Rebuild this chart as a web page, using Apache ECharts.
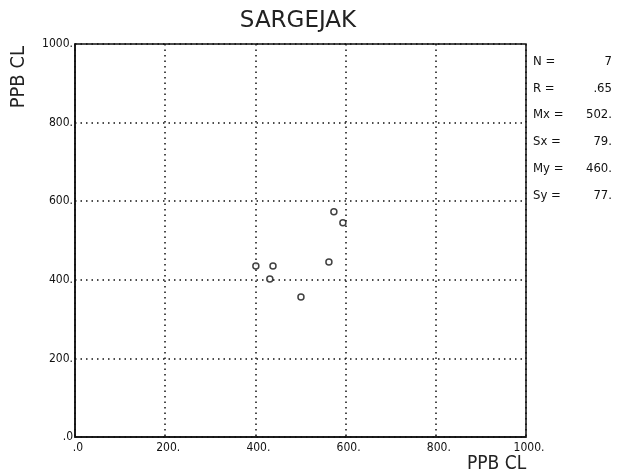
<!DOCTYPE html>
<html>
<head>
<meta charset="utf-8">
<script src="https://cdn.jsdelivr.net/npm/echarts@6/dist/echarts.min.js"></script>
<style>html,body{margin:0;padding:0;background:#fff}#c{width:624px;height:472px}</style>
</head>
<body>
<div id="c"></div>
<script>
var xValues = [401, 439, 432, 501, 563, 574, 594];
var yValues = [435, 435, 402, 356, 445, 573, 545];
var statLabels = ['N =', 'R =', 'Mx =', 'Sx =', 'My =', 'Sy ='];
var statValues = ['7', '.65', '502.', '79.', '460.', '77.'];
var tickValues = [0, 200, 400, 600, 800, 1000];

var points = xValues.map(function (x, i) { return [x, yValues[i]]; });
function fmt(v) { return v === 0 ? '.0' : v + '.'; }

var chart = echarts.init(document.getElementById('c'));
var graphics = [];
statLabels.forEach(function (s, i) {
  var y = 63 + i * 26.8;
  graphics.push({ type: 'text', left: 533, top: y - 8, style: { text: s, fontSize: 13, fontFamily: 'DejaVu Sans Condensed, DejaVu Sans', fill: '#111' } });
  graphics.push({ type: 'text', right: 12, top: y - 8, style: { text: statValues[i], fontSize: 13, fontFamily: 'DejaVu Sans Condensed, DejaVu Sans', fill: '#111', textAlign: 'right' } });
});
graphics.push({ type: 'text', left: 9, top: 46, rotation: Math.PI / 2, style: { text: 'PPB CL', fontSize: 20, fontFamily: 'DejaVu Sans Condensed, DejaVu Sans', fill: '#222' } });
graphics.push({ type: 'text', left: 467, top: 455, style: { text: 'PPB CL', fontSize: 19, fontFamily: 'DejaVu Sans Condensed, DejaVu Sans', fill: '#222' } });

chart.setOption({
  backgroundColor: '#fff',
  animation: false,
  title: { text: 'SARGEJAK', left: 293, top: 5, textAlign: 'center', textStyle: { fontSize: 23, fontWeight: 'normal', fontFamily: 'DejaVu Sans', color: '#222' } },
  grid: { left: 75, top: 44, width: 451, height: 393, show: true, borderColor: '#111', borderWidth: 1.5, backgroundColor: 'transparent' },
  xAxis: {
    type: 'value', min: 0, max: 1000, interval: 200,
    axisLine: { show: true, lineStyle: { color: '#111', width: 1.5 } },
    axisTick: { show: false },
    axisLabel: { formatter: fmt, color: '#111', fontSize: 12, fontFamily: 'DejaVu Sans Condensed, DejaVu Sans', margin: 5, showMinLabel: true, showMaxLabel: true, padding: [0, 0, 0, 6] },
    splitLine: { show: true, lineStyle: { type: [1.5, 4], color: '#111', width: 1.5 } }
  },
  yAxis: {
    type: 'value', min: 0, max: 1000, interval: 200,
    axisLine: { show: true, lineStyle: { color: '#111', width: 1.5 } },
    axisTick: { show: false },
    axisLabel: { formatter: fmt, color: '#111', fontSize: 12, fontFamily: 'DejaVu Sans Condensed, DejaVu Sans', margin: 2, showMinLabel: true, showMaxLabel: true },
    splitLine: { show: true, lineStyle: { type: [1.5, 4], color: '#111', width: 1.5 } }
  },
  graphic: graphics,
  series: [{
    type: 'scatter', data: points, symbol: 'circle', symbolSize: 6,
    itemStyle: { color: '#fff', borderColor: '#111', borderWidth: 1.5 }
  }]
});
</script>
</body>
</html>
